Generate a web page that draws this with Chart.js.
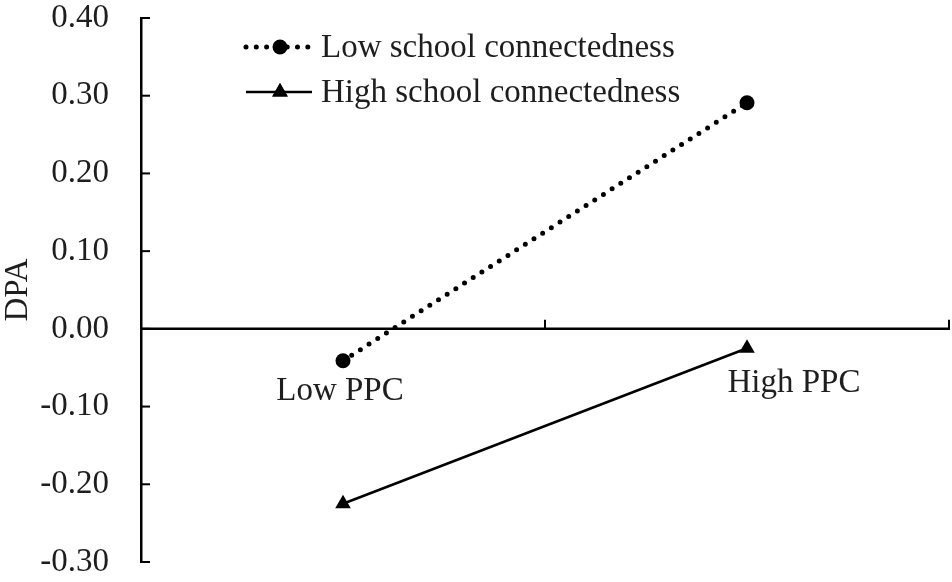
<!DOCTYPE html>
<html><head><meta charset="utf-8">
<script src="https://cdn.jsdelivr.net/npm/chart.js@4/dist/chart.umd.min.js"></script>
<style>html,body{margin:0;padding:0;background:#fff;overflow:hidden}</style>
</head><body>
<canvas id="c" width="952" height="582"></canvas>
<script>
// ---- data ----
const categories = ['Low PPC', 'High PPC'];
const seriesNames = ['Low school connectedness', 'High school connectedness'];
const lowConnectedness = [-0.041, 0.291];
const highConnectedness = [-0.225, -0.025];
const yMin = -0.30, yMax = 0.40, yStep = 0.10;
const yTitle = 'DPA';

// ---- style ----
const FONT = '"Liberation Serif", "Times New Roman", serif';
const TEXT = '#1e1e1e';
const labelShift = [{dx: -3, dy: 71}, {dx: 47, dy: 63}];
const DOT_DASH = [0, 10.3];

const axesPlugin = {
  id: 'customAxes',
  beforeDatasetsDraw(chart) {
    const {ctx, chartArea: a, scales: {x, y}} = chart;
    const y0 = y.getPixelForValue(0);
    ctx.save();
    ctx.strokeStyle = '#000';
    ctx.lineWidth = 2.5;
    ctx.lineCap = 'butt';
    ctx.beginPath();
    ctx.moveTo(a.left, y0); ctx.lineTo(a.right + 1, y0); ctx.stroke();
    ctx.lineWidth = 2;
    const n = categories.length;
    for (let i = 0; i < n; i++) {
      const px = i < n - 1 ? x.getPixelForValue(i + 0.5) : a.right;
      ctx.beginPath(); ctx.moveTo(px, y0); ctx.lineTo(px, y0 - 9); ctx.stroke();
    }
    y.ticks.forEach((t, i) => {
      const py = y.getPixelForTick(i);
      ctx.beginPath(); ctx.moveTo(a.left, py); ctx.lineTo(a.left + 9, py); ctx.stroke();
    });
    ctx.fillStyle = TEXT;
    ctx.font = '33px ' + FONT;
    ctx.textAlign = 'center';
    ctx.textBaseline = 'alphabetic';
    categories.forEach((c, i) => {
      ctx.fillText(c, x.getPixelForValue(i) + labelShift[i].dx, y0 + labelShift[i].dy);
    });
    ctx.restore();
  },
  afterDatasetsDraw(chart) {
    const {ctx} = chart;
    ctx.save();
    const rows = [47, 92];
    const x1 = 246, x2 = 312, xm = 280;
    ctx.strokeStyle = '#000';
    ctx.fillStyle = '#000';
    ctx.lineWidth = 5; ctx.lineCap = 'round';
    ctx.setLineDash(DOT_DASH);
    ctx.beginPath(); ctx.moveTo(x1, rows[0]); ctx.lineTo(x2, rows[0]); ctx.stroke();
    ctx.setLineDash([]);
    ctx.beginPath(); ctx.arc(xm, rows[0], 7.5, 0, Math.PI * 2); ctx.fill();
    ctx.lineWidth = 2.5; ctx.lineCap = 'butt';
    ctx.beginPath(); ctx.moveTo(x1, rows[1]); ctx.lineTo(x2, rows[1]); ctx.stroke();
    Chart.helpers.drawPoint(ctx, {pointStyle: 'triangle', radius: 9, borderWidth: 0}, xm, rows[1]);
    ctx.fill();
    ctx.fillStyle = TEXT;
    ctx.font = '33px ' + FONT;
    ctx.textAlign = 'left'; ctx.textBaseline = 'middle';
    seriesNames.forEach((s, i) => ctx.fillText(s, 321, rows[i] + 1));
    ctx.restore();
  }
};

new Chart(document.getElementById('c'), {
  type: 'line',
  data: {
    labels: categories,
    datasets: [
      {
        label: seriesNames[0], data: lowConnectedness,
        borderColor: '#000', borderWidth: 5, borderDash: DOT_DASH, borderCapStyle: 'round',
        pointStyle: 'circle', pointRadius: 7.5, pointBackgroundColor: '#000', pointBorderWidth: 0,
        tension: 0, fill: false
      },
      {
        label: seriesNames[1], data: highConnectedness,
        borderColor: '#000', borderWidth: 2.5,
        pointStyle: 'triangle', pointRadius: 9, pointBackgroundColor: '#000', pointBorderWidth: 0,
        tension: 0, fill: false
      }
    ]
  },
  options: {
    responsive: false, animation: false, devicePixelRatio: 1,
    layout: {autoPadding: false, padding: {left: 0, top: 18, right: 3, bottom: 20}},
    plugins: {legend: {display: false}, tooltip: {enabled: false}},
    scales: {
      x: {type: 'category', offset: true, display: false},
      y: {
        min: yMin, max: yMax,
        grid: {display: false, drawTicks: false},
        border: {display: true, color: '#000', width: 2.5},
        ticks: {
          stepSize: yStep, padding: 32, color: TEXT,
          font: {family: FONT, size: 33, lineHeight: 1},
          callback: v => Number(v).toFixed(2)
        },
        title: {display: true, text: yTitle, color: TEXT, font: {family: FONT, size: 33, lineHeight: 1}, padding: {top: 2, bottom: 0}},
        afterFit(scale) { scale.width = 141; scale.paddingTop = 0; scale.paddingBottom = 0; }
      }
    }
  },
  plugins: [axesPlugin]
});
</script>
</body></html>
